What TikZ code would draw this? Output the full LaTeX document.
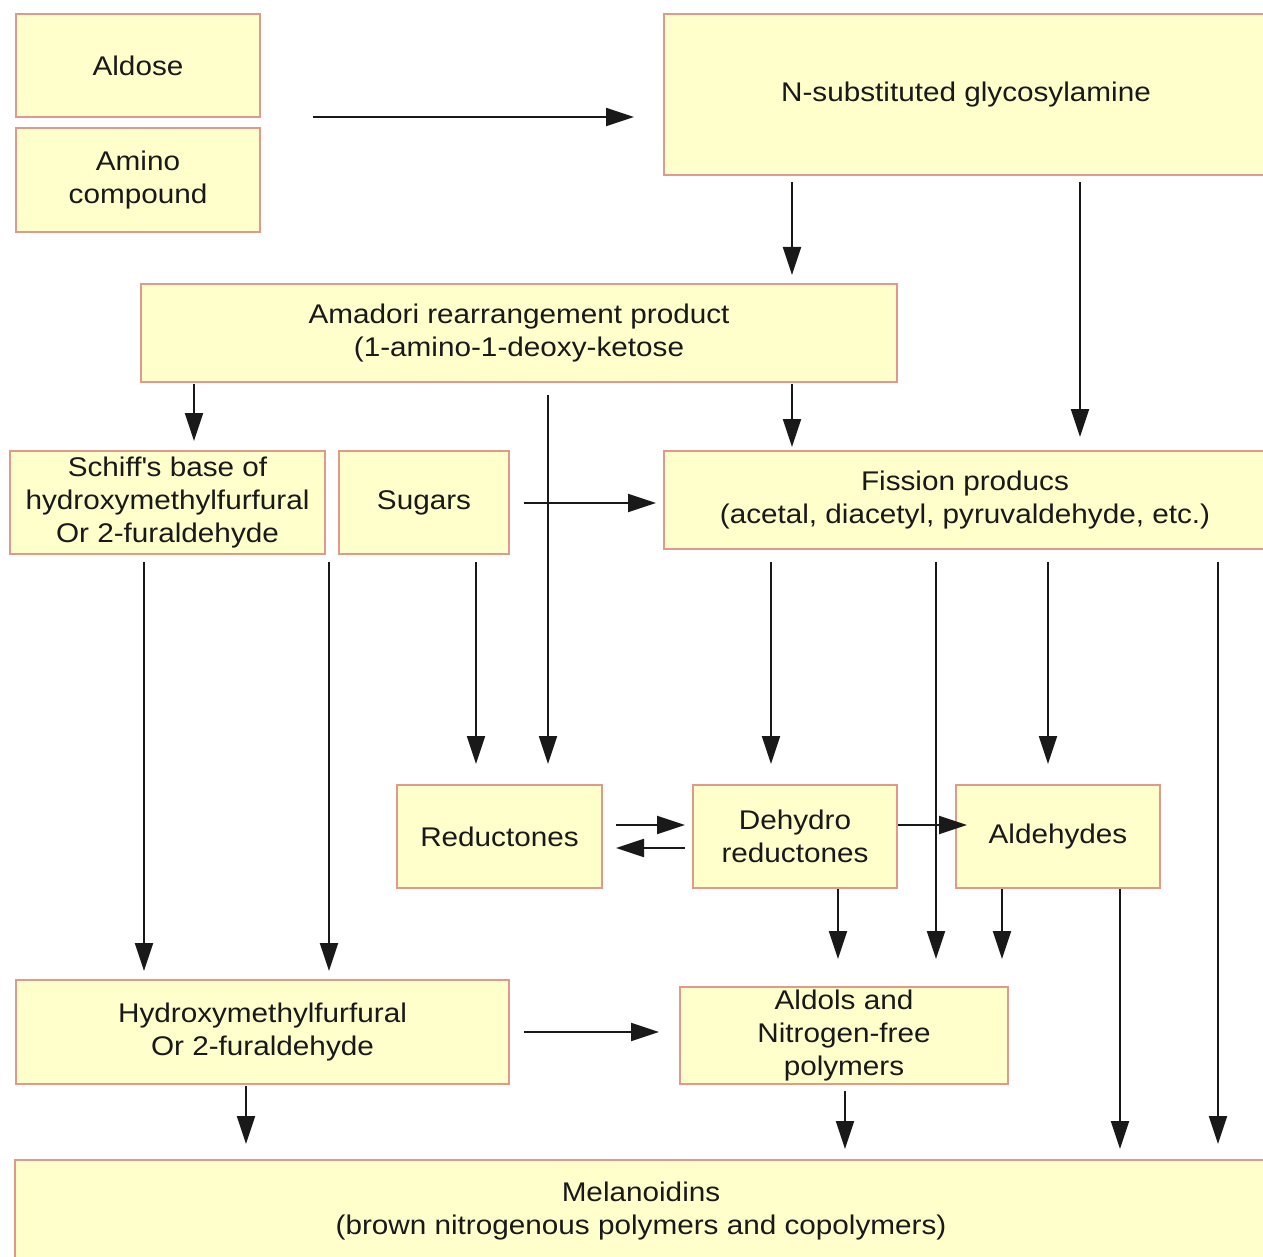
\documentclass[tikz,border=0pt]{standalone}
\usepackage{fontspec}
\setmainfont{Liberation Sans}[FakeStretch=1.1]
\usetikzlibrary{arrows.meta}
\definecolor{boxfill}{HTML}{FFFFCC}
\definecolor{boxline}{HTML}{E0998A}
\begin{document}
\begin{tikzpicture}[
    x=0.5pt, y=-0.5pt,
    >={Triangle[length=14pt,width=9pt]},
    font=\fontsize{13.5}{16.5}\selectfont,
    box/.style={draw=boxline, fill=boxfill, line width=1pt, align=center, inner sep=0pt, text=black!90},
    arr/.style={->, line width=1pt, black!90}
]
\useasboundingbox (0,0) rectangle (1263,1257);

\node[box, minimum width=122pt, minimum height=51.5pt] (aldose) at (138,65.5) {Aldose};
\node[box, minimum width=122pt, minimum height=52pt] (amino) at (138,180) {Amino\\compound};
\node[box, minimum width=302pt, minimum height=80.5pt] (glyco) at (966,94.5) {N-substituted glycosylamine};
\node[box, minimum width=378pt, minimum height=49pt] (amadori) at (519,333) {Amadori rearrangement product\\(1-amino-1-deoxy-ketose};
\node[box, minimum width=157.5pt, minimum height=51.5pt] (schiff) at (167.5,502.5) {Schiff\textquotesingle s base of\\hydroxymethylfurfural\\Or 2-furaldehyde};
\node[box, minimum width=85pt, minimum height=51.5pt] (sugars) at (424,502.5) {Sugars};
\node[box, minimum width=301pt, minimum height=49pt] (fission) at (965,500) {Fission producs\\(acetal, diacetyl, pyruvaldehyde, etc.)};
\node[box, minimum width=102.5pt, minimum height=51.5pt] (reduct) at (499.5,836.5) {Reductones};
\node[box, minimum width=102pt, minimum height=51.5pt] (dehydro) at (795,836.5) {Dehydro\\reductones};
\node[box, minimum width=102pt, minimum height=51.5pt] (aldehyd) at (1058,836.5) {Aldehydes};
\node[box, minimum width=246.5pt, minimum height=52pt] (hmf) at (262.5,1032) {Hydroxymethylfurfural\\Or 2-furaldehyde};
\node[box, minimum width=164pt, minimum height=48.5pt] (aldols) at (844,1035.5) {Aldols and\\Nitrogen-free\\polymers};
\node[box, minimum width=626pt, minimum height=51pt] (melan) at (641,1211) {Melanoidins\\(brown nitrogenous polymers and copolymers)};

% top row
\draw[arr, shorten <=26pt, shorten >=14.5pt] (aldose.east |- 0,117) -- (glyco.west |- 0,117);
\draw[arr, shorten <=3pt, shorten >=4pt] (glyco.south -| 792,0) -- (amadori.north -| 792,0);
\draw[arr, shorten <=3pt, shorten >=6.5pt] (glyco.south -| 1080,0) -- (fission.north -| 1080,0);

% from Amadori product
\draw[arr, shorten <=0.5pt, shorten >=4.5pt] (amadori.south -| 194,0) -- (schiff.north -| 194,0);
\draw[arr, shorten <=6pt, shorten >=10pt] (amadori.south -| 548,0) -- (reduct.north -| 548,0);
\draw[arr, shorten <=0.5pt, shorten >=1.5pt] (amadori.south -| 792,0) -- (fission.north -| 792,0);
\draw[arr, shorten <=7pt, shorten >=3.5pt] (sugars.east |- 0,503) -- (fission.west |- 0,503);

% middle columns
\draw[arr, shorten <=3.5pt, shorten >=4pt] (schiff.south -| 144,0) -- (hmf.north -| 144,0);
\draw[arr, shorten <=3.5pt, shorten >=4pt] (schiff.south -| 329,0) -- (hmf.north -| 329,0);
\draw[arr, shorten <=3.5pt, shorten >=10pt] (sugars.south -| 476,0) -- (reduct.north -| 476,0);
\draw[arr, shorten <=6pt, shorten >=10pt] (fission.south -| 771,0) -- (dehydro.north -| 771,0);
\draw[arr, shorten <=6pt, shorten >=13.5pt] (fission.south -| 936,0) -- (aldols.north -| 936,0);
\draw[arr, shorten <=6pt, shorten >=10pt] (fission.south -| 1048,0) -- (aldehyd.north -| 1048,0);
\draw[arr, shorten <=6pt, shorten >=7.5pt] (fission.south -| 1218,0) -- (melan.north -| 1218,0);

% reductones row
\draw[arr, shorten <=6.5pt, shorten >=3.5pt] (reduct.east |- 0,825) -- (dehydro.west |- 0,825);
\draw[arr, shorten <=3.5pt, shorten >=6.5pt] (dehydro.west |- 0,848) -- (reduct.east |- 0,848);
\draw[arr, shorten >=-6pt] (dehydro.east |- 0,825) -- (aldehyd.west |- 0,825);
\draw[arr, shorten >=13.5pt] (dehydro.south -| 838,0) -- (aldols.north -| 838,0);
\draw[arr, shorten >=13.5pt] (aldehyd.south -| 1002,0) -- (aldols.north -| 1002,0);
\draw[arr, shorten >=5pt] (aldehyd.south -| 1120,0) -- (melan.north -| 1120,0);

% bottom
\draw[arr, shorten <=7pt, shorten >=10pt] (hmf.east |- 0,1032) -- (aldols.west |- 0,1032);
\draw[arr, shorten <=0.5pt, shorten >=7.5pt] (hmf.south -| 246,0) -- (melan.north -| 246,0);
\draw[arr, shorten <=3pt, shorten >=5pt] (aldols.south -| 845,0) -- (melan.north -| 845,0);
\end{tikzpicture}
\end{document}
